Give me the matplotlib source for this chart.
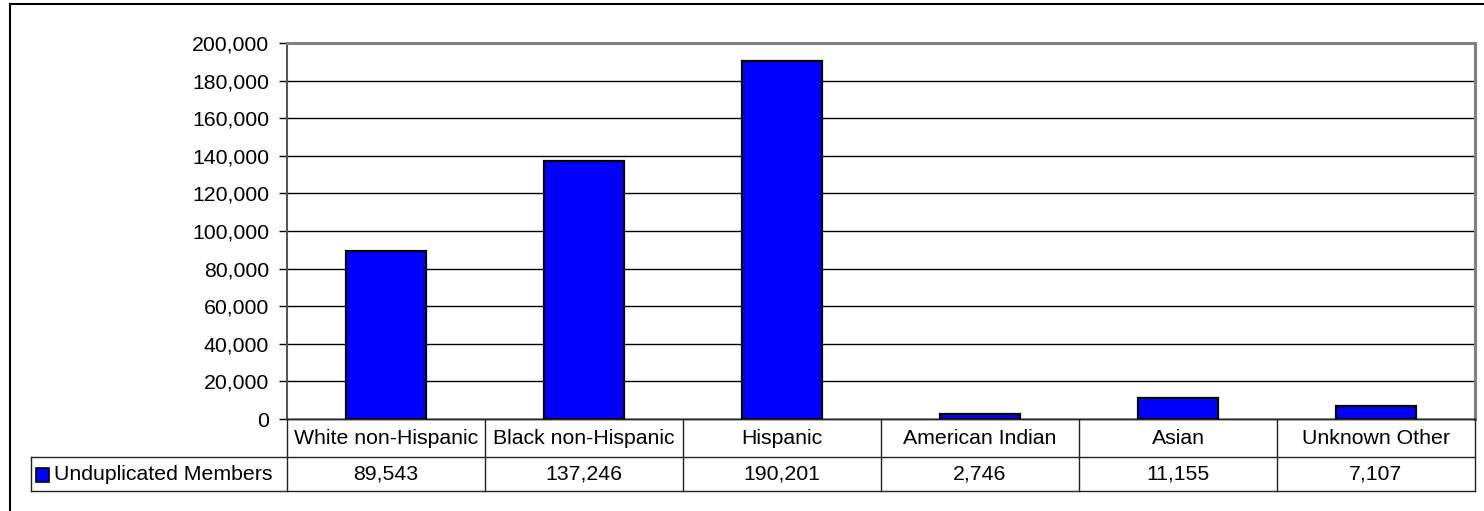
import numpy as np
import matplotlib
matplotlib.use('Agg')
import matplotlib.pyplot as plt
from matplotlib.patches import Rectangle

# data
categories = ['White non-Hispanic', 'Black non-Hispanic', 'Hispanic',
              'American Indian', 'Asian', 'Unknown Other']
members = [89543, 137246, 190201, 2746, 11155, 7107]
series_name = 'Unduplicated Members'
yticks = np.arange(0, 200001, 20000)

plt.rcParams['font.family'] = ['Liberation Sans', 'DejaVu Sans']
W, H = 1484, 511
fig = plt.figure(figsize=(W / 100, H / 100), dpi=100)
fs = 15.3

def fx(px):
    return px / W

def fy(py):
    return 1 - py / H

# pixel layout
plot_l, plot_r, plot_t, plot_b = 287, 1475, 43, 419
row1_b, row2_b = 457, 491
key_l = 31

ax = fig.add_axes([fx(plot_l), fy(plot_b), fx(plot_r - plot_l), fy(plot_t) - fy(plot_b)])
x = np.arange(len(categories))
ax.bar(x, members, width=0.4, color='#0000FF', edgecolor='black', linewidth=1.6, zorder=3)
ax.set_xlim(-0.5, len(categories) - 0.5)
ax.set_ylim(0, 200000)
ax.set_yticks(yticks)
ax.set_yticklabels([f'{v:,}' for v in yticks], fontsize=fs)
ax.set_xticks([])
ax.yaxis.grid(True, color='black', linewidth=1, zorder=0)
ax.tick_params(axis='y', length=6, width=1, pad=7, color='black')
for s in ['top', 'right']:
    ax.spines[s].set_color('#808080')
    ax.spines[s].set_linewidth(2.2)
ax.spines['left'].set_color('#555555')
ax.spines['left'].set_linewidth(1.5)
ax.spines['bottom'].set_color('black')
ax.spines['bottom'].set_linewidth(1)

# data table under the plot
tax = fig.add_axes([fx(key_l), fy(row2_b), fx(plot_r - key_l), fy(plot_b) - fy(row2_b)])
tax.set_xlim(key_l, plot_r)
tax.set_ylim(row2_b, plot_b)
tax.axis('off')
col_w = (plot_r - plot_l) / len(categories)
lc = '#222222'
kw = dict(color=lc, lw=1, clip_on=False)
tax.plot([plot_l, plot_r], [plot_b, plot_b], **kw)
tax.plot([key_l, plot_r], [row1_b, row1_b], **kw)
tax.plot([key_l, plot_r], [row2_b, row2_b], **kw)
tax.plot([key_l, key_l], [row1_b, row2_b], **kw)
for i in range(len(categories) + 1):
    xc = plot_l + i * col_w
    tax.plot([xc, xc], [plot_b, row2_b], **kw)
for i, (c, v) in enumerate(zip(categories, members)):
    xc = plot_l + (i + 0.5) * col_w
    tax.text(xc, (plot_b + row1_b) / 2, c, ha='center', va='center', fontsize=fs)
    tax.text(xc, (row1_b + row2_b) / 2, f'{v:,}', ha='center', va='center', fontsize=fs)
tax.add_patch(Rectangle((36, 468), 13, 14, facecolor='#0000FF', edgecolor='black', lw=1.2))
tax.text(54, (row1_b + row2_b) / 2, series_name, ha='left', va='center', fontsize=fs)

# outer chart border (left and top visible)
fig.add_artist(plt.Line2D([fx(10), fx(10)], [fy(4), -0.1], color='black', lw=1.5))
fig.add_artist(plt.Line2D([fx(10), 1.1], [fy(4), fy(4)], color='black', lw=1.5))

fig.savefig('out.png', dpi=100)
